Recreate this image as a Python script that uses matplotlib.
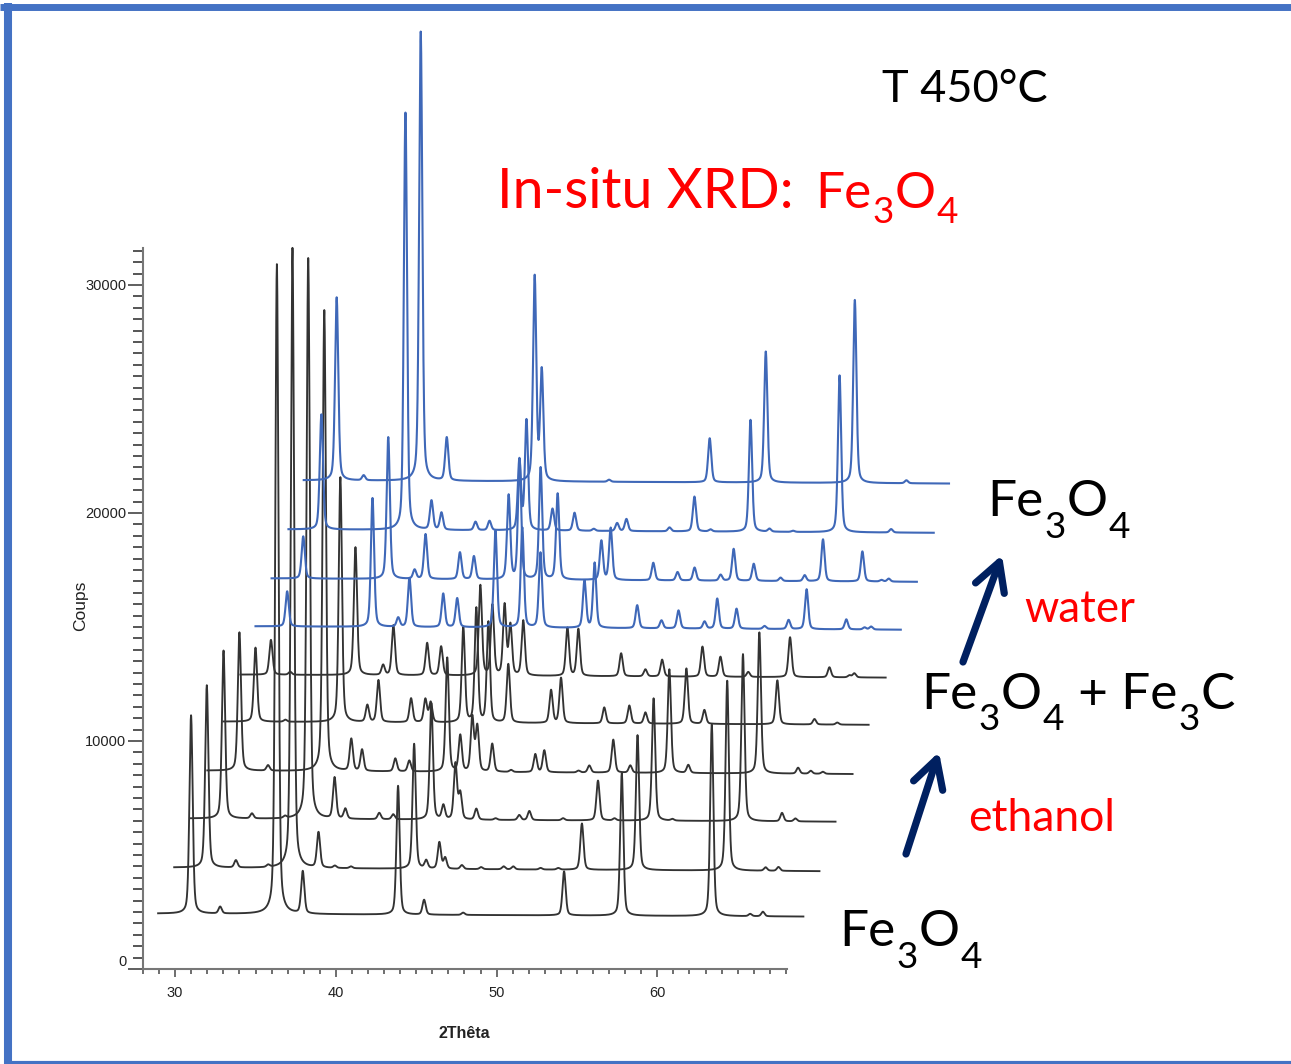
import matplotlib
matplotlib.use('Agg')
import matplotlib.pyplot as plt
import numpy as np
from matplotlib.ticker import MultipleLocator
from matplotlib.transforms import ScaledTranslation

plt.rcParams['font.family'] = ['Lato', 'DejaVu Sans']

# patterns, bottom one first
# each one: peak 2theta (as if not shifted), peak height above baseline (counts)
pos1 = [31.05, 32.86, 36.39, 38.0, 43.93, 45.55, 47.98, 54.26, 57.85, 63.45, 65.84, 66.63]
amp1 = [8700, 300, 28500, 1850, 5650, 650, 100, 1930, 6250, 8400, 100, 200]
pos2 = [31.03, 32.84, 34.85, 36.36, 37.98, 39.0, 40.0, 43.93, 44.68, 45.5, 45.86, 46.9, 48.1, 49.5, 50.1, 51.8, 52.9, 54.37, 57.83, 63.41, 65.8, 66.6]
amp2 = [8000, 320, 100, 27200, 1550, 100, 80, 5480, 350, 1160, 480, 170, 90, 130, 130, 70, 70, 2030, 5920, 8330, 150, 170]
pos3 = [31.07, 32.84, 34.9, 36.34, 37.98, 38.65, 40.76, 41.63, 44.0, 44.75, 45.5, 45.8, 46.8, 48.0, 49.47, 50.1, 52.2, 54.37, 55.4, 57.83, 59.0, 63.39, 65.82, 66.65]
amp3 = [7370, 220, 90, 24600, 1800, 440, 280, 220, 5100, 610, 2450, 1140, 480, 70, 220, 400, 90, 1750, 90, 5370, 70, 7330, 370, 130]
pos4 = [31.0, 32.78, 36.28, 37.96, 38.63, 40.7, 41.57, 43.93, 44.74, 45.49, 45.8, 46.73, 47.9, 49.41, 49.97, 52.1, 52.77, 54.26, 55.32, 57.75, 58.93, 63.35, 65.76, 66.55, 67.3]
amp4 = [6070, 240, 20220, 1400, 940, 570, 480, 5000, 1580, 2380, 1980, 1230, 90, 790, 960, 80, 310, 1450, 320, 4550, 350, 6190, 260, 130, 90]
pos5 = [31.0, 32.86, 36.28, 37.96, 38.65, 40.68, 41.57, 41.9, 43.93, 44.74, 45.49, 46.73, 49.39, 50.01, 52.7, 54.26, 55.26, 57.81, 58.93, 63.47, 65.78, 67.2]
amp5 = [3250, 90, 10740, 740, 1840, 1050, 1010, 870, 4160, 5000, 4400, 2570, 1440, 1980, 700, 790, 490, 2430, 610, 1930, 240, 90]
pos6 = [30.9, 32.1, 36.16, 37.88, 38.52, 40.62, 41.49, 43.93, 44.68, 45.44, 45.8, 46.6, 49.35, 50.03, 52.69, 54.2, 55.24, 57.75, 58.87, 60.6, 63.2, 65.65, 66.9, 67.2]
amp6 = [1530, 130, 5610, 440, 2190, 1420, 1270, 3950, 3070, 3070, 2190, 2410, 2110, 2060, 1010, 310, 740, 1320, 880, 220, 1750, 440, 90, 180]
pos7 = [30.97, 36.28, 37.88, 38.58, 40.68, 41.55, 43.93, 45.6, 46.73, 49.47, 50.1, 52.75, 54.26, 55.32, 56.94, 57.73, 58.93, 60.67, 62.17, 63.29, 65.76, 66.9, 67.3]
amp7 = [1540, 5650, 400, 2150, 1470, 1270, 4250, 4380, 3290, 2060, 2850, 1010, 350, 790, 310, 1320, 880, 130, 400, 1750, 440, 90, 130]
pos8 = [30.97, 36.26, 37.9, 38.58, 40.72, 41.59, 43.75, 44.43, 45.74, 46.8, 49.52, 50.1, 52.75, 54.26, 55.32, 56.94, 57.75, 59.0, 60.67, 62.17, 63.31, 65.76, 66.95, 67.4]
amp8 = [1850, 6220, 400, 1970, 1180, 1010, 3680, 5220, 4910, 3770, 1710, 2280, 770, 370, 570, 260, 1400, 750, 150, 260, 1840, 1320, 70, 130]
pos9 = [31.05, 36.28, 37.9, 38.52, 40.64, 41.51, 43.37, 43.81, 45.43, 46.8, 48.0, 49.45, 50.03, 52.71, 54.26, 55.26, 57.75, 58.93, 60.4, 63.29, 66.5]
amp9 = [5050, 18300, 1270, 750, 370, 410, 3070, 4820, 960, 790, 90, 350, 530, 170, 1530, 90, 4910, 130, 50, 6880, 150]
pos10 = [31.05, 32.73, 36.28, 37.9, 43.37, 43.81, 48.0, 54.26, 57.75, 63.29, 66.5]
amp10 = [8030, 220, 19700, 1890, 8950, 4800, 90, 1930, 5750, 8030, 130]

positions = [pos1, pos2, pos3, pos4, pos5, pos6, pos7, pos8, pos9, pos10]
amplitudes = [amp1, amp2, amp3, amp4, amp5, amp6, amp7, amp8, amp9, amp10]

# shift of each pattern in the stack
shift_x = [-0.06, 0.94, 1.94, 3.0, 4.0, 5.06, 6.0, 7.0, 8.05, 9.0]
base_left = [2430, 4450, 6600, 8700, 10850, 12910, 15030, 17130, 19280, 21430]
base_right = [2300, 4290, 6460, 8550, 10710, 12780, 14880, 16980, 19130, 21290]
colors = ['#333333'] * 6 + ['#3f68b8'] * 4
widths = [1.35] * 6 + [1.5] * 4

W, H = 1291, 1064
fig = plt.figure(figsize=(W / 100, H / 100), dpi=100)
ax = fig.add_axes([143 / W, 1 - 969 / H, (787 - 143) / W, (969 - 248) / H])

two_theta = np.arange(29, 69.15, 0.01)
for pos, amp, dx, b0, b1, c, lw in zip(positions, amplitudes, shift_x, base_left, base_right, colors, widths):
    y = np.linspace(b0, b1, len(two_theta))
    for p, a in zip(pos, amp):
        d = two_theta - p
        # peak shape: narrow core and weak tails
        y = y + a * (0.65 * np.exp(-d ** 2 / (2 * 0.1 ** 2)) + 0.35 * 0.12 ** 2 / (0.12 ** 2 + d ** 2))
    ax.plot(two_theta + dx, y, color=c, lw=lw, clip_on=False)

ax.set_xlim(28, 68.07)
ax.set_ylim(0, 31620)
ax.spines['top'].set_visible(False)
ax.spines['right'].set_visible(False)
ax.spines['left'].set_color('#777777')
ax.spines['bottom'].set_color('#777777')
ax.spines['left'].set_linewidth(1.5)
ax.spines['bottom'].set_linewidth(1.5)
ax.xaxis.set_major_locator(MultipleLocator(10))
ax.xaxis.set_minor_locator(MultipleLocator(1))
ax.yaxis.set_major_locator(MultipleLocator(10000))
ax.yaxis.set_minor_locator(MultipleLocator(500))
ax.tick_params(axis='x', which='major', length=6, width=1.2, color='#555555', labelsize=10.5, pad=6, labelcolor='#222222')
ax.tick_params(axis='x', which='minor', length=3.5, width=1.2, color='#555555')
ax.tick_params(axis='y', which='major', length=11, width=1.2, color='#444444', labelsize=10.5, pad=1, labelcolor='#222222')
ax.tick_params(axis='y', which='minor', length=7.5, width=1.4, color='#555555')
for lab in ax.get_xticklabels() + ax.get_yticklabels():
    lab.set_family('Liberation Sans')
# the 0 label sits a little above its tick
zero = [lab for lab in ax.get_yticklabels() if lab.get_text() == '0'][0]
zero.set_transform(zero.get_transform() + ScaledTranslation(0, 8 / 100, fig.dpi_scale_trans))
ax.set_xlabel('2Thêta', family='Liberation Sans', fontsize=11.5, weight='bold', color='#222222')
ax.xaxis.set_label_coords((464 - 143) / 644, -(1033 - 969) / 721, transform=ax.transAxes)
ax.xaxis.label.set_va('center')
ax.set_ylabel('Coups', family='Liberation Sans', fontsize=12.5, color='#222222')
ax.yaxis.set_label_coords((81 - 143) / 644, (969 - 606) / 721, transform=ax.transAxes)
ax.yaxis.label.set_va('center')

# overlay in picture pixels for the slide text, arrows and frame
ov = fig.add_axes([0, 0, 1, 1], facecolor='none')
ov.set_xlim(0, W)
ov.set_ylim(H, 0)
ov.axis('off')
rend = fig.canvas.get_renderer()


def formula(x, base, parts, size, color, drop=21):
    # text with subscripts set lower than mathtext puts them
    for s, sub in parts:
        t = ov.text(x, base + (drop if sub else 0), s, fontsize=size * 0.72 if sub else size,
                    color=color, va='baseline', ha='left')
        x = x + t.get_window_extent(rend).width + 1


FE3O4 = [('Fe', False), ('3', True), ('O', False), ('4', True)]

ov.text(882, 102, 'T 450°C', fontsize=32.5, color='black', va='baseline')
ov.text(497, 208, 'In-situ XRD:', fontsize=40, color='#ff0000', va='baseline')
formula(815, 208, FE3O4, 37, '#ff0000', drop=15)
formula(987, 516.5, FE3O4, 37, 'black')
formula(921, 709, FE3O4 + [(' + Fe', False), ('3', True), ('C', False)], 37, 'black')
formula(839, 946.5, FE3O4, 37, 'black')
ov.text(1024, 622, 'water', fontsize=31.5, color='#ff0000', va='baseline')
ov.text(968, 831, 'ethanol', fontsize=32, color='#ff0000', va='baseline')

for start, end in [((906, 854), (939, 752)), ((963, 662), (1002, 555))]:
    ov.annotate('', xy=end, xytext=start,
                arrowprops=dict(arrowstyle='->,head_length=1.0,head_width=0.55', mutation_scale=20,
                                color='#002060', lw=5.2, shrinkA=0, shrinkB=0))

frame = '#4472c4'
ov.plot([0, W], [6.5, 6.5], color=frame, lw=5, clip_on=False, solid_capstyle='butt')
ov.plot([8, 8], [3, H], color=frame, lw=5.8, clip_on=False, solid_capstyle='butt')
ov.plot([4, W], [1062.5, 1062.5], color=frame, lw=3, clip_on=False, solid_capstyle='butt')

fig.savefig('out.png', dpi=100)
